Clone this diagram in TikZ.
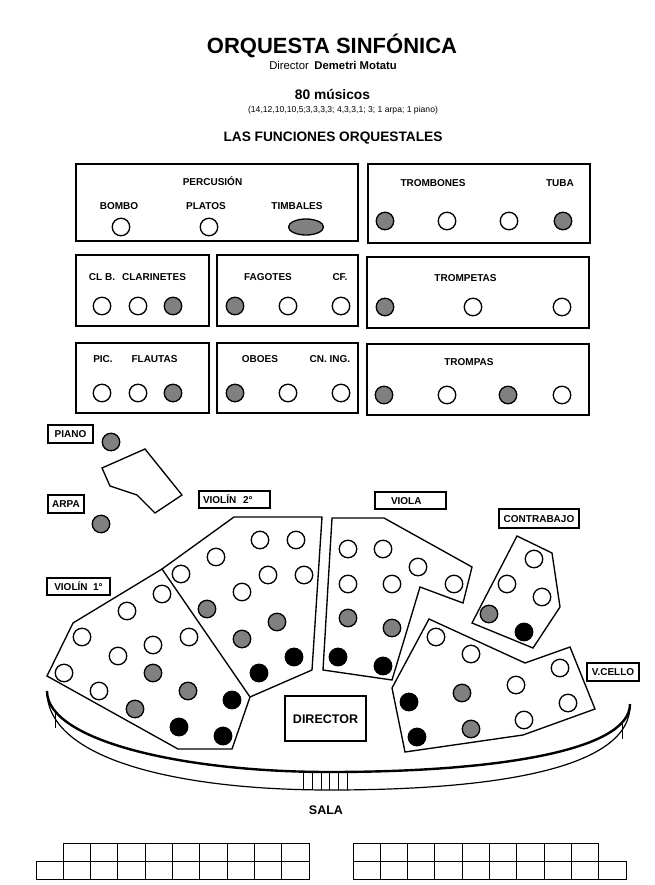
\documentclass[tikz,border=0pt]{standalone}
\usepackage{fontspec}
\setmainfont{Liberation Sans}
\usetikzlibrary{shapes.geometric}

\begin{document}
\begin{tikzpicture}[x=1pt,y=-1pt,
  musico/.style={circle,draw,line width=1.3pt,minimum size=17.5pt,inner sep=0pt},
  blanco/.style={musico,fill=white},
  gris/.style={musico,fill=gray},
  negro/.style={musico,fill=black},
  caja/.style={draw,line width=1.35pt},
  etiq/.style={font=\fontsize{10}{12}\selectfont\bfseries,inner sep=0pt,text height=7.2pt,text depth=0pt},
  rotulo/.style={etiq,draw,line width=1.2pt,minimum height=18pt}]
\useasboundingbox (0,0) rectangle (655,885);

% Cabecera
\node[anchor=base,font=\fontsize{22}{26}\selectfont\bfseries] (titulo) at (332,54) {ORQUESTA SINFÓNICA};
\node[anchor=base,font=\fontsize{11.3}{13}\selectfont] (director) at (333,70) {Director\enspace\textbf{Demetri Motatu}};
\node[anchor=base,font=\fontsize{13.8}{16}\selectfont\bfseries] (musicos) at (332.5,100) {80 músicos};
\node[anchor=base,font=\fontsize{8.6}{10}\selectfont] (plantilla) at (343,113) {(14,12,10,10,5;3,3,3,3; 4,3,3,1; 3; 1 arpa; 1 piano)};
\node[anchor=base,font=\fontsize{13.7}{16}\selectfont\bfseries] (funciones) at (333,141.5) {LAS FUNCIONES ORQUESTALES};

% Percusion
\draw[caja] (76,164) rectangle (358,241);
\node[etiq] (percusion) at (212.5,182) {PERCUSIÓN};
\node[etiq] (bombo) at (119,206) {BOMBO};
\node[etiq] (platos) at (206,206) {PLATOS};
\node[etiq] (timbales) at (297,206) {TIMBALES};
\node[blanco] (bombo-o) at (121,227) {};
\node[blanco] (platos-o) at (209,227) {};
\node[ellipse,draw,line width=1.3pt,fill=gray,minimum width=35pt,minimum height=16pt,inner sep=0pt] (timbales-o) at (306,227) {};

% Trombones y tuba
\draw[caja] (368,164) rectangle (590,243);
\node[etiq] (trombones) at (433,183) {TROMBONES};
\node[etiq] (tuba) at (560,183) {TUBA};
\node[gris] (tb1) at (385,221) {};
\node[blanco] (tb2) at (447,221) {};
\node[blanco] (tb3) at (509,221) {};
\node[gris] (tu1) at (563,221) {};

% Clarinetes
\draw[caja] (76,255) rectangle (209,326);
\node[etiq] (clb) at (102,277) {CL B.};
\node[etiq] (clarinetes) at (154,277) {CLARINETES};
\node[blanco] (cl1) at (102,306) {};
\node[blanco] (cl2) at (138,306) {};
\node[gris] (cl3) at (173,306) {};

% Fagotes
\draw[caja] (217,255) rectangle (358,326);
\node[etiq] (fagotes) at (268,277) {FAGOTES};
\node[etiq] (cf) at (340,277) {CF.};
\node[gris] (fg1) at (235,306) {};
\node[blanco] (fg2) at (288,306) {};
\node[blanco] (fg3) at (341,306) {};

% Flautas
\draw[caja] (76,343) rectangle (209,413);
\node[etiq] (pic) at (103,359) {PIC.};
\node[etiq] (flautas) at (154.5,359) {FLAUTAS};
\node[blanco] (fl1) at (102,393) {};
\node[blanco] (fl2) at (138,393) {};
\node[gris] (fl3) at (173,393) {};

% Oboes
\draw[caja] (217,343) rectangle (358,413);
\node[etiq] (oboes) at (260,359) {OBOES};
\node[etiq] (cning) at (330,359) {CN. ING.};
\node[gris] (ob1) at (235,393) {};
\node[blanco] (ob2) at (288,393) {};
\node[blanco] (ob3) at (341,393) {};

% Trompetas
\draw[caja] (367,257) rectangle (589,328);
\node[etiq] (trompetas) at (465.5,278) {TROMPETAS};
\node[gris] (tp1) at (385,307) {};
\node[blanco] (tp2) at (473,307) {};
\node[blanco] (tp3) at (562,307) {};

% Trompas
\draw[caja] (367,344) rectangle (589,415);
\node[etiq] (trompas) at (469,362) {TROMPAS};
\node[gris] (tr1) at (384,395) {};
\node[blanco] (tr2) at (447,395) {};
\node[gris] (tr3) at (508,395) {};
\node[blanco] (tr4) at (562,395) {};

% Piano y arpa
\node[rotulo,minimum width=45pt] (piano) at (70.5,434) {PIANO};
\node[gris] (piano-o) at (111,442) {};
\draw[caja] (102,468) -- (145,449) -- (182,495) -- (155,513) -- (137,495) -- (110,486) -- cycle;
\node[rotulo,minimum width=36pt] (arpa) at (66,504) {ARPA};
\node[gris] (arpa-o) at (101,524) {};

% Rotulos de la cuerda
\node[rotulo,minimum height=17pt,text width=63pt,inner xsep=4pt,align=left] (violin2) at (234.5,499.5) {VIOLÍN\ \ 2°};
\node[rotulo,minimum width=63pt,minimum height=17pt] (violin1) at (78.5,586.5) {VIOLÍN\ \ 1°};
\node[rotulo,minimum height=17pt,text width=55pt,inner xsep=8pt,align=left] (viola) at (410.5,500.5) {\hspace*{8pt}VIOLA};
\node[rotulo,minimum width=80pt,minimum height=19pt] (contrabajo) at (539,518.5) {CONTRABAJO};
\node[rotulo,minimum width=52pt] (vcello) at (613,672) {V.CELLO};

% Violines primeros
\draw[caja] (47,676) -- (73,623) -- (162,569) -- (250,697) -- (232,749) -- (178,749) -- cycle;
\node[blanco] (v1-1) at (82,637) {};
\node[blanco] (v1-2) at (127,611) {};
\node[blanco] (v1-3) at (162,594) {};
\node[blanco] (v1-4) at (118,656) {};
\node[blanco] (v1-5) at (153,645) {};
\node[blanco] (v1-6) at (189,637) {};
\node[blanco] (v1-7) at (64,673) {};
\node[blanco] (v1-8) at (99,691) {};
\node[gris] (v1-9) at (153,673) {};
\node[gris] (v1-10) at (188,691) {};
\node[gris] (v1-11) at (135,709) {};
\node[negro] (v1-12) at (232,700) {};
\node[negro] (v1-13) at (179,727) {};
\node[negro] (v1-14) at (223,736) {};

% Violines segundos
\draw[caja] (162,569) -- (234,517) -- (322,517) -- (312,670) -- (250,697);
\node[blanco] (v2-1) at (260,540) {};
\node[blanco] (v2-2) at (296,540) {};
\node[blanco] (v2-3) at (216,557) {};
\node[blanco] (v2-4) at (181,574) {};
\node[blanco] (v2-5) at (268,575) {};
\node[blanco] (v2-6) at (304,575) {};
\node[blanco] (v2-7) at (242,592) {};
\node[gris] (v2-8) at (207,609) {};
\node[gris] (v2-9) at (277,622) {};
\node[gris] (v2-10) at (242,639) {};
\node[negro] (v2-11) at (294,657) {};
\node[negro] (v2-12) at (259,673) {};

% Violas
\draw[caja] (332,518) -- (384,518) -- (472,567) -- (463,603) -- (420,587) -- (392,680) -- (323,670) -- cycle;
\node[blanco] (va-1) at (348,549) {};
\node[blanco] (va-2) at (383,549) {};
\node[blanco] (va-3) at (418,567) {};
\node[blanco] (va-4) at (454,584) {};
\node[blanco] (va-5) at (348,584) {};
\node[blanco] (va-6) at (392,584) {};
\node[gris] (va-7) at (348,618) {};
\node[gris] (va-8) at (392,628) {};
\node[negro] (va-9) at (338,657) {};
\node[negro] (va-10) at (383,666) {};

% Contrabajos
\draw[caja] (517,536) -- (552,553) -- (560,607) -- (533,648) -- (472,623) -- cycle;
\node[blanco] (cb-1) at (534,559) {};
\node[blanco] (cb-2) at (507,584) {};
\node[blanco] (cb-3) at (542,597) {};
\node[gris] (cb-4) at (489,614) {};
\node[negro] (cb-5) at (524,632) {};

% Violonchelos
\draw[caja] (429,619) -- (525,663) -- (570,647) -- (595,709) -- (523,735) -- (405,752) -- (392,688) -- cycle;
\node[blanco] (vc-1) at (436,637) {};
\node[blanco] (vc-2) at (471,654) {};
\node[blanco] (vc-3) at (560,668) {};
\node[blanco] (vc-4) at (516,685) {};
\node[blanco] (vc-5) at (568,703) {};
\node[blanco] (vc-6) at (524,720) {};
\node[gris] (vc-7) at (462,693) {};
\node[gris] (vc-8) at (471,729) {};
\node[negro] (vc-9) at (409,702) {};
\node[negro] (vc-10) at (417,737) {};

% Director y tarima
\node[rotulo,minimum width=81pt,minimum height=45pt,font=\fontsize{12.5}{14}\selectfont\bfseries,text height=9pt] (podio) at (325.5,718.5) {DIRECTOR};
\draw[line width=2.4pt] (47,691) .. controls (47,740) and (180,772) .. (330,772) .. controls (490,772) and (630,752) .. (630,704);
\draw[line width=1.2pt] (47,691) .. controls (47,760) and (180,790) .. (330,790) .. controls (490,790) and (632,770) .. (630,704);
\draw[line width=1pt] (55,713) -- (55,728);
\draw[line width=1pt] (622,724) -- (622,739);
\foreach \x in {303,312,321,329,338,347}
  \draw[line width=1pt] (\x,772) -- (\x,790);

% Sala
\node[etiq,font=\fontsize{12.5}{14}\selectfont\bfseries,text height=9pt] (sala) at (326,810) {SALA};
\foreach \i in {0,...,9}
  \draw[line width=1pt] ({36+27.3*\i},861) rectangle +(27.3,18);
\foreach \i in {1,...,9}
  \draw[line width=1pt] ({36+27.3*\i},843) rectangle +(27.3,18);
\foreach \i in {0,...,9}
  \draw[line width=1pt] ({353+27.3*\i},861) rectangle +(27.3,18);
\foreach \i in {0,...,8}
  \draw[line width=1pt] ({353+27.3*\i},843) rectangle +(27.3,18);
\end{tikzpicture}
\end{document}
